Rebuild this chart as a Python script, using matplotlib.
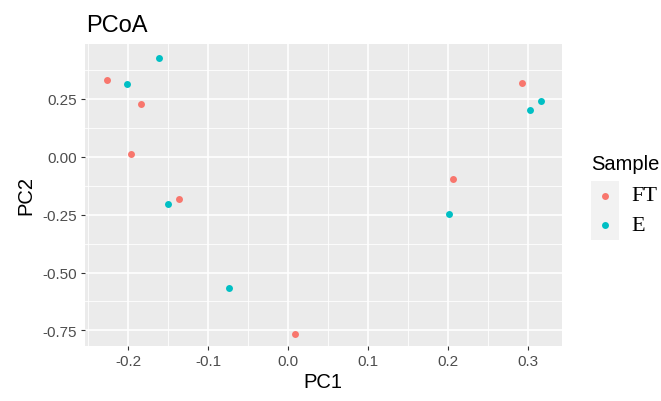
import numpy as np
import matplotlib.pyplot as plt
from matplotlib.ticker import MultipleLocator

plt.rcParams['font.family'] = ['Liberation Sans', 'DejaVu Sans']

# --- Data ---
groups = ['FT', 'E']
colors = {'FT': '#F8766D', 'E': '#00BFC4'}

ft_pc1 = [-0.226, -0.184, -0.196, -0.136, 0.009, 0.293, 0.207]
ft_pc2 = [0.331, 0.228, 0.012, -0.183, -0.766, 0.320, -0.096]

e_pc1 = [-0.161, -0.201, -0.150, -0.074, 0.303, 0.316, 0.202]
e_pc2 = [0.428, 0.314, -0.204, -0.567, 0.201, 0.240, -0.246]

x_ticks = [-0.2, -0.1, 0.0, 0.1, 0.2, 0.3]
y_ticks = [-0.75, -0.50, -0.25, 0.00, 0.25]

W, H = 661, 402
fig = plt.figure(figsize=(W / 100, H / 100), dpi=100)
ax = fig.add_axes([85 / W, 1 - 346.7 / H, (561.7 - 85) / W, (346.7 - 45) / H])

ax.set_facecolor('#EBEBEB')
ax.scatter(ft_pc1, ft_pc2, s=25, color=colors['FT'], zorder=3, linewidths=0)
ax.scatter(e_pc1, e_pc2, s=25, color=colors['E'], zorder=3, linewidths=0)

ax.set_xlim(-0.254, 0.3425)
ax.set_ylim(-0.816, 0.4866)
ax.set_xticks(x_ticks)
ax.set_yticks(y_ticks)
ax.set_xticklabels(['%.1f' % v for v in x_ticks])
ax.set_yticklabels(['%.2f' % v for v in y_ticks])
ax.xaxis.set_minor_locator(MultipleLocator(0.05))
ax.yaxis.set_minor_locator(MultipleLocator(0.125))

# ggplot-like grid
ax.grid(which='major', color='white', linewidth=1.2)
ax.grid(which='minor', color='white', linewidth=0.6)
ax.set_axisbelow(True)
for sp in ax.spines.values():
    sp.set_visible(False)
ax.tick_params(which='major', length=3.2, width=0.8, color='#333333',
               labelcolor='#4D4D4D', labelsize=11, pad=2.5)
ax.tick_params(which='minor', length=0)

ax.set_xlabel('PC1', fontsize=14.5, labelpad=3)
ax.set_ylabel('PC2', fontsize=14.5, labelpad=5)
fig.text(86 / W, 1 - 32 / H, 'PCoA', fontsize=17, ha='left', va='baseline')

# legend drawn as a small key panel
lax = fig.add_axes([591 / W, 1 - 241 / H, 28 / W, 59.3 / H])
lax.set_facecolor('#F2F2F2')
lax.set_xlim(0, 1)
lax.set_ylim(0, 2)
for sp in lax.spines.values():
    sp.set_visible(False)
lax.set_xticks([])
lax.set_yticks([])
for i, g in enumerate(groups):
    yy = 1.5 - i
    lax.scatter([0.5], [yy], s=25, color=colors[g], linewidths=0)
    lax.text(1.45, yy, g, fontsize=16, va='center', ha='left',
             family=['Liberation Serif'], transform=lax.transData, clip_on=False)
fig.text(591 / W, 1 - 170 / H, 'Sample', fontsize=14.5, ha='left', va='baseline')

fig.savefig('out.png', dpi=100)
